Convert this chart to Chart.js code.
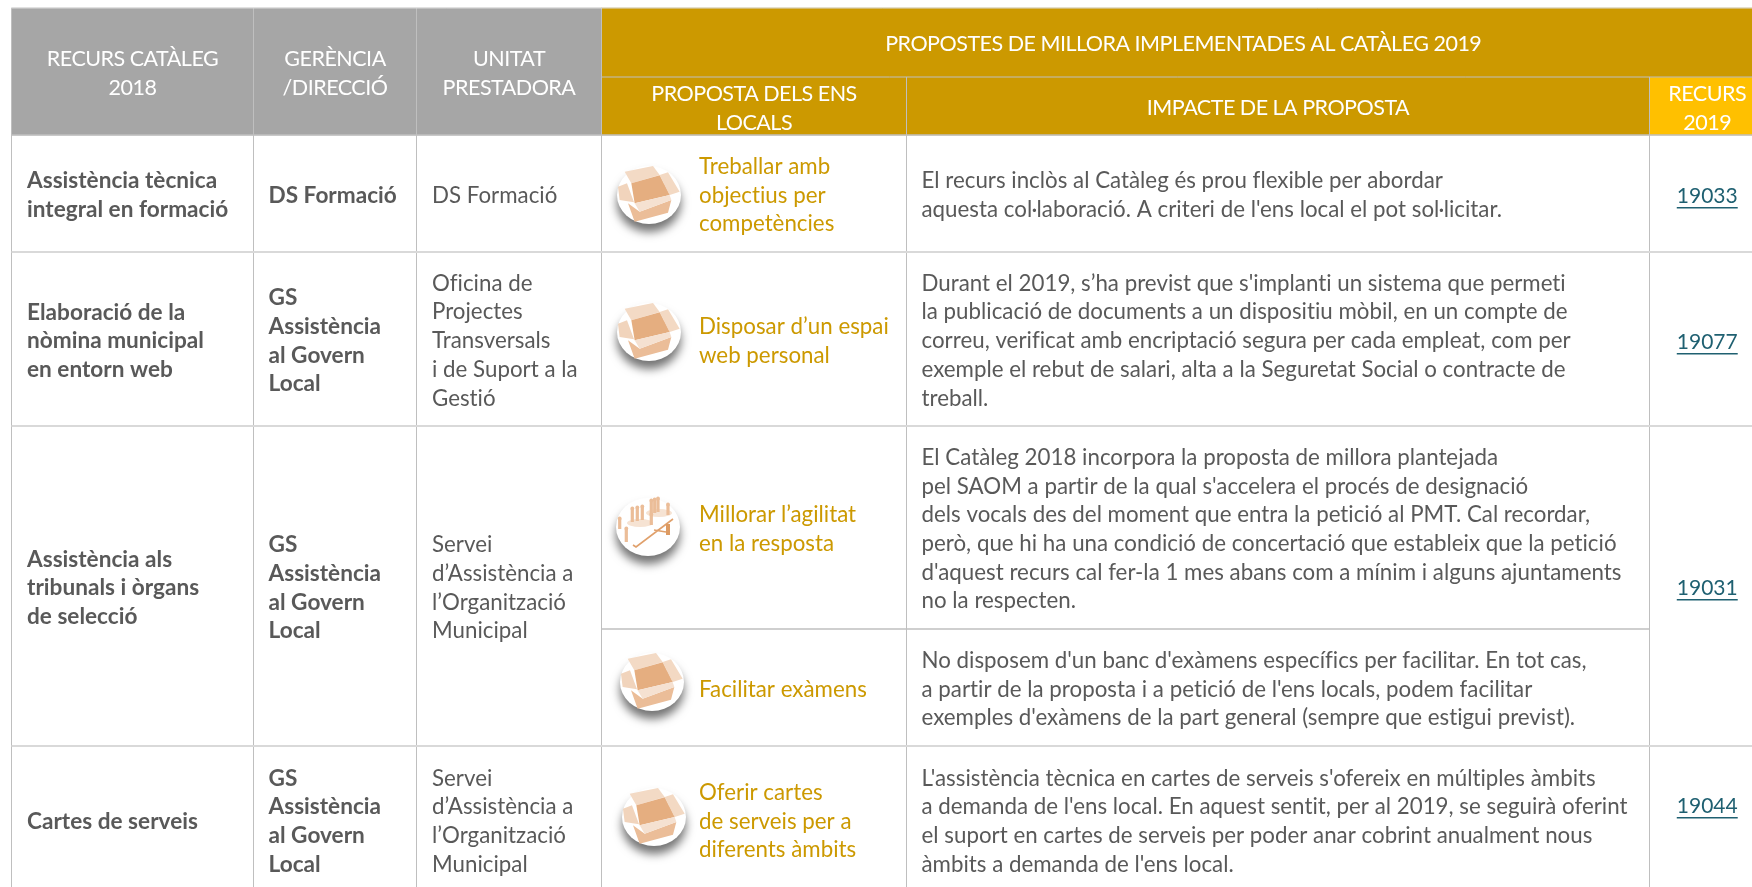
<!DOCTYPE html>
<html lang="ca">
<head>
<meta charset="UTF-8">
<title>Recurs catàleg 2018</title>
<script src="https://cdn.jsdelivr.net/npm/chart.js"></script>
<style>
body { margin: 0; background: #fff; overflow: hidden; }
canvas { display: block; }
</style>
</head>
<body>
<canvas id="taula" width="1752" height="887"></canvas>
<script>
// table content
const grisHeaders = [['RECURS CATÀLEG', '2018'], ['GERÈNCIA', '/DIRECCIÓ'], ['UNITAT', 'PRESTADORA']];
const titolPropostes = 'PROPOSTES DE MILLORA IMPLEMENTADES AL CATÀLEG 2019';
const subHeaders = [['PROPOSTA DELS ENS', 'LOCALS'], ['IMPACTE DE LA PROPOSTA'], ['RECURS', '2019']];

const recursos = [
    ['Assistència tècnica', 'integral en formació'],
    ['Elaboració de la', 'nòmina municipal', 'en entorn web'],
    ['Assistència als', 'tribunals i òrgans', 'de selecció'],
    ['Cartes de serveis']
];
const gerencies = [
    ['DS Formació'],
    ['GS', 'Assistència', 'al Govern', 'Local'],
    ['GS', 'Assistència', 'al Govern', 'Local'],
    ['GS', 'Assistència', 'al Govern', 'Local']
];
const unitats = [
    ['DS Formació'],
    ['Oficina de', 'Projectes', 'Transversals', 'i de Suport a la', 'Gestió'],
    ['Servei', 'd’Assistència a', 'l’Organització', 'Municipal'],
    ['Servei', 'd’Assistència a', 'l’Organització', 'Municipal']
];
const propostes = [
    ['Treballar amb', 'objectius per', 'competències'],
    ['Disposar d’un espai', 'web personal'],
    ['Millorar l’agilitat', 'en la resposta'],
    ['Facilitar exàmens'],
    ['Oferir cartes', 'de serveis per a', 'diferents àmbits']
];
const impactes = [
    ['El recurs inclòs al Catàleg és prou flexible per abordar',
     'aquesta col·laboració. A criteri de l\'ens local el pot sol·licitar.'],
    ['Durant el 2019, s’ha previst que s\'implanti un sistema que permeti',
     'la publicació de documents a un dispositiu mòbil, en un compte de',
     'correu, verificat amb encriptació segura per cada empleat, com per',
     'exemple el rebut de salari, alta a la Seguretat Social o contracte de',
     'treball.'],
    ['El Catàleg 2018 incorpora la proposta de millora plantejada',
     'pel SAOM a partir de la qual s\'accelera el procés de designació',
     'dels vocals des del moment que entra la petició al PMT. Cal recordar,',
     'però, que hi ha una condició de concertació que estableix que la petició',
     'd\'aquest recurs cal fer-la 1 mes abans com a mínim i alguns ajuntaments',
     'no la respecten.'],
    ['No disposem d\'un banc d\'exàmens específics per facilitar. En tot cas,',
     'a partir de la proposta i a petició de l\'ens locals, podem facilitar',
     'exemples d\'exàmens de la part general (sempre que estigui previst).'],
    ['L\'assistència tècnica en cartes de serveis s\'ofereix en múltiples àmbits',
     'a demanda de l\'ens local. En aquest sentit, per al 2019, se seguirà oferint',
     'el suport en cartes de serveis per poder anar cobrint anualment nous',
     'àmbits a demanda de l\'ens local.']
];
const recursos2019 = ['19033', '19077', '19031', '19044'];

// layout, in scale units
const colX = [11.5, 253.5, 416.5, 601.5, 906.5, 1649.5, 1765];
const rowY = [135, 252, 426, 746, 893];
const subRowY = [135, 252, 426, 629, 746, 893];
const codiY = [194, 340, 586, 804];
const iconPos = [[649, 195, 'caixa'], [649, 332, 'caixa'], [648, 527, 'gent'], [652, 682, 'caixa'], [654, 817, 'caixa']];

const GRIS = '#A6A6A6', OR = '#CC9900', GROC = '#FFC000', TEXT = '#595959', ENLLAC = '#1F6071';
const LINIA = '#BFBFBF', LINIA_FILA = '#D9D9D9';
const FONT = 'Lato, sans-serif';
const LINE_H = 28.7;
const TEXT_DY = 2;

function fons(x0, x1, y0, y1, color) {
    return { type: 'bar', order: 3, data: [{ x: (x0 + x1) / 2, y: [y0, y1] }], barThickness: x1 - x0,
        backgroundColor: color, borderWidth: 0, grouped: false };
}
function linia(x0, y0, x1, y1, color, w) {
    return { type: 'line', order: 2, data: [{ x: x0, y: y0 }, { x: x1, y: y1 }], borderColor: color,
        borderWidth: w, pointRadius: 0, clip: false };
}

function caixa(c) {
    const poly = (pts, col) => {
        c.fillStyle = col;
        c.beginPath();
        pts.forEach((p, i) => i ? c.lineTo(p[0] / 3, p[1] / 3) : c.moveTo(p[0] / 3, p[1] / 3));
        c.closePath();
        c.fill();
    };
    c.translate(-178 / 3, -165 / 3);
    poly([[105, 95], [190, 78], [210, 105], [125, 130]], '#F3DAC5');
    poly([[210, 105], [235, 97], [270, 155], [240, 165]], '#F3D9C3');
    poly([[85, 140], [112, 130], [133, 187], [90, 180]], '#F1D4BC');
    poly([[125, 130], [210, 106], [240, 165], [135, 190]], '#E5AE80');
    poly([[115, 190], [150, 215], [245, 180], [235, 218], [135, 245]], '#EBBD98');
    poly([[135, 190], [240, 165], [245, 180], [150, 215]], '#F5E1D1');
}
function gent(c) {
    c.fillStyle = '#F6E3D3';
    c.beginPath();
    c.ellipse(-8, -4, 13, 4, 0, 0, Math.PI * 2);
    c.ellipse(11, -14, 13, 4, 0, 0, Math.PI * 2);
    c.fill();
    c.fillStyle = '#EBBD98';
    [[-15.7, -18, 13], [-10.7, -19, 13], [-5.7, -20, 13], [3.3, -26, 13], [6.7, -27, 13], [10, -28, 13],
     [20, -22, 10], [-28.3, -8, 10], [-21.7, 2, 13], [3.3, -12, 10]].forEach(p => {
        c.fillRect(p[0] - 1.6, p[1], 3.2, p[2]);
        c.beginPath();
        c.arc(p[0], p[1] - 0.5, 1.9, 0, Math.PI * 2);
        c.fill();
    });
    c.strokeStyle = '#E0A06B';
    c.lineWidth = 1.6;
    c.beginPath();
    c.moveTo(-15, 18);
    c.lineTo(-12, 20);
    c.lineTo(25, -8);
    c.moveTo(6, 3);
    c.lineTo(18, 5);
    c.stroke();
    c.fillStyle = '#DD9B63';
    c.fillRect(18, -3, 4, 11);
}
function ferIcona(tipus) {
    const cv = document.createElement('canvas');
    cv.width = 100;
    cv.height = 100;
    const c = cv.getContext('2d');
    c.save();
    c.shadowColor = 'rgba(0,0,0,0.55)';
    c.shadowBlur = 10;
    c.shadowOffsetY = 8;
    c.fillStyle = '#fff';
    c.beginPath();
    c.ellipse(50, 50, 32, 29, 0, 0, Math.PI * 2);
    c.fill();
    c.restore();
    c.translate(50, 50);
    (tipus === 'caixa' ? caixa : gent)(c);
    return cv;
}

const datasets = [
    fons(colX[0], colX[3], 8, 135, GRIS),
    fons(colX[3], colX[6], 8, 77, OR),
    fons(colX[3], colX[5], 77, 135, OR),
    fons(colX[5], colX[6], 77, 135, GROC),
    linia(colX[0], 8, colX[6], 8, LINIA_FILA, 1),
    linia(colX[3], 77, colX[6], 77, LINIA, 1),
    linia(colX[0], 135, colX[6], 135, LINIA, 1.5),
    linia(colX[0], 252, colX[6], 252, LINIA_FILA, 2),
    linia(colX[0], 426, colX[6], 426, LINIA_FILA, 2),
    linia(colX[3], 629, colX[5], 629, LINIA, 1.5),
    linia(colX[0], 746, colX[6], 746, LINIA_FILA, 2),
    linia(colX[0], 8, colX[0], 887, LINIA, 1),
    linia(colX[1], 8, colX[1], 887, LINIA, 1),
    linia(colX[2], 8, colX[2], 887, LINIA, 1),
    linia(colX[3], 8, colX[3], 887, LINIA, 1),
    linia(colX[4], 77, colX[4], 887, LINIA, 1),
    linia(colX[5], 77, colX[5], 887, LINIA, 1)
];
iconPos.forEach(p => datasets.push({
    type: 'scatter', order: 1, data: [{ x: p[0], y: p[1] }], pointStyle: ferIcona(p[2]), pointRadius: 50, clip: false
}));

const textPlugin = {
    id: 'textTaula',
    afterDatasetsDraw(chart) {
        const c = chart.ctx, sx = chart.scales.x, sy = chart.scales.y;
        c.save();
        c.textBaseline = 'middle';
        const bloc = (lines, x, mid, font, color, align, spacing) => {
            c.font = font;
            c.letterSpacing = spacing || '0.01px'; // non zero keeps Lato from joining "ti" and "fi"
            c.fillStyle = color;
            c.textAlign = align;
            lines.forEach((t, i) => {
                c.fillText(t, sx.getPixelForValue(x), sy.getPixelForValue(mid + TEXT_DY + (i - (lines.length - 1) / 2) * LINE_H));
            });
        };
        const capcal = '21.5px ' + FONT, normal = '22.3px ' + FONT, negre = 'bold 22.6px ' + FONT;
        const mitja = (a, b) => (a + b) / 2;

        grisHeaders.forEach((h, i) => bloc(h, mitja(colX[i], colX[i + 1]), 71.5, capcal, '#fff', 'center', '-0.5px'));
        bloc([titolPropostes], mitja(colX[3], colX[6]), 42.5, capcal, '#fff', 'center', '-0.5px');
        subHeaders.forEach((h, i) => bloc(h, mitja(colX[3 + i], colX[4 + i]), 106.5, capcal, '#fff', 'center', '-0.5px'));

        recursos.forEach((t, i) => {
            const mid = mitja(rowY[i], rowY[i + 1]);
            bloc(t, colX[0] + 15.5, mid, negre, TEXT, 'left');
            bloc(gerencies[i], colX[1] + 15, mid, negre, TEXT, 'left');
            bloc(unitats[i], colX[2] + 15.5, mid, normal, TEXT, 'left');
            bloc([recursos2019[i]], mitja(colX[5], colX[6]), codiY[i], '21px ' + FONT, ENLLAC, 'center');
            const w = c.measureText(recursos2019[i]).width, xm = sx.getPixelForValue(mitja(colX[5], colX[6]));
            c.fillStyle = ENLLAC;
            c.fillRect(xm - w / 2, sy.getPixelForValue(codiY[i] + TEXT_DY + 11), w, 1.5);
        });
        propostes.forEach((t, i) => {
            const mid = mitja(subRowY[i], subRowY[i + 1]);
            bloc(t, 699, mid, normal, OR, 'left');
            bloc(impactes[i], 921.5, mid, normal, TEXT, 'left');
        });
        c.restore();
    }
};

new Chart(document.getElementById('taula').getContext('2d'), {
    type: 'bar',
    data: { datasets },
    options: {
        responsive: false,
        animation: false,
        layout: { padding: 0, autoPadding: false },
        plugins: { legend: { display: false }, tooltip: { enabled: false } },
        scales: {
            x: { type: 'linear', min: 0, max: 1752, display: false, offset: false },
            y: { type: 'linear', min: 0, max: 887, reverse: true, display: false }
        }
    },
    plugins: [textPlugin]
});
</script>
</body>
</html>
